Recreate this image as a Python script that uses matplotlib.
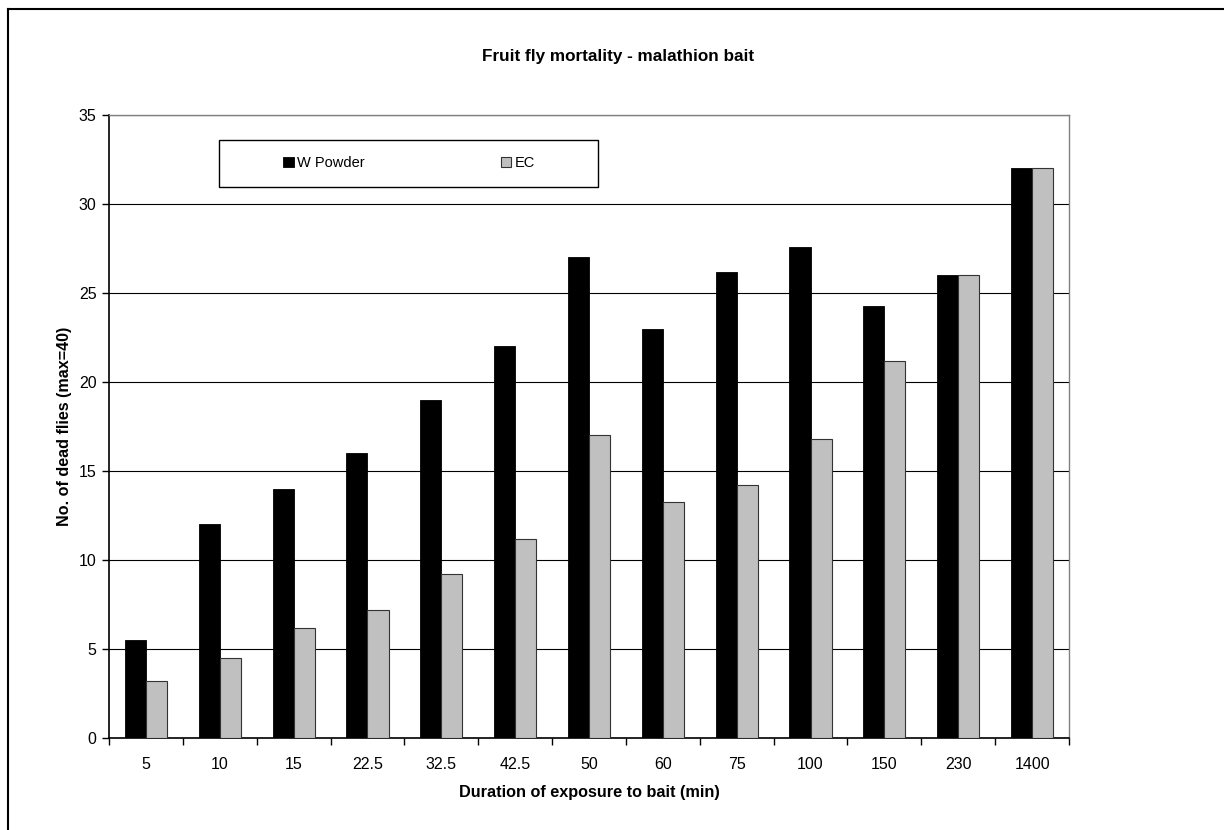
import matplotlib
matplotlib.use('Agg')
import matplotlib.pyplot as plt
from matplotlib.patches import Rectangle
from matplotlib.lines import Line2D
import numpy as np

plt.rcParams['font.family'] = ['Liberation Sans', 'DejaVu Sans']

durations = ['5', '10', '15', '22.5', '32.5', '42.5', '50', '60', '75', '100', '150', '230', '1400']
w_powder = [5.5, 12, 14, 16, 19, 22, 27, 23, 26.2, 27.6, 24.25, 26, 32]
ec = [3.2, 4.5, 6.2, 7.2, 9.2, 11.2, 17, 13.25, 14.2, 16.8, 21.2, 26, 32]

fig = plt.figure(figsize=(12.24, 8.3), dpi=100)
ax = fig.add_axes([109/1224, 92/830, 960/1224, 623/830])

x = np.arange(len(durations))
bw = 0.285
ax.bar(x - bw/2, w_powder, bw, color='black', edgecolor='black', linewidth=0.6, zorder=3, label='W Powder')
ax.bar(x + bw/2, ec, bw, color='#c0c0c0', edgecolor='#333333', linewidth=0.8, zorder=3, label='EC')

ax.set_xlim(-0.5, len(durations) - 0.5)
ax.set_ylim(0, 35)
ax.set_yticks(range(0, 36, 5))
ax.yaxis.grid(True, color='black', linewidth=0.8, zorder=0)
ax.set_xticks(x)
ax.set_xticklabels(durations, fontsize=11.5)
ax.set_xticks(np.arange(-0.5, len(durations), 1), minor=True)
ax.tick_params(axis='x', which='major', length=0, pad=14)
ax.tick_params(axis='x', which='minor', length=5, width=1, direction='out')
ax.tick_params(axis='y', length=5, width=1, direction='out', labelsize=11.5, pad=4)

for s in ['top', 'right']:
    ax.spines[s].set_color('#808080')
    ax.spines[s].set_linewidth(1.0)
for s in ['left', 'bottom']:
    ax.spines[s].set_color('black')
    ax.spines[s].set_linewidth(1.2)

ax.set_xlabel('Duration of exposure to bait (min)', fontsize=11.7, fontweight='bold', labelpad=9)
ax.set_ylabel('No. of dead flies (max=40)', fontsize=11.6, fontweight='bold', labelpad=5)

fig.text(618/1224, 1 - 57/830, 'Fruit fly mortality - malathion bait',
         ha='center', va='center', fontsize=12.3, fontweight='bold')

# legend box
fig.patches.append(Rectangle((219/1224, 1 - 187/830), 379/1224, 47/830,
                             transform=fig.transFigure, facecolor='white',
                             edgecolor='black', linewidth=1.0, zorder=5))
handles, labels = ax.get_legend_handles_labels()
leg = fig.legend(handles, labels, loc='center', bbox_to_anchor=(409/1224, 1 - 163/830),
                 ncol=2, frameon=False, fontsize=10.5, handlelength=0.75, handleheight=0.75,
                 handletextpad=0.25, columnspacing=9.3)
leg.set_zorder(6)

# outer chart border (left and top visible)
fig.add_artist(Line2D([8/1224, 8/1224], [0, 1 - 9/830], transform=fig.transFigure, color='black', linewidth=1.5))
fig.add_artist(Line2D([8/1224, 1], [1 - 9/830, 1 - 9/830], transform=fig.transFigure, color='black', linewidth=1.5))

fig.savefig('out.png', dpi=100)
